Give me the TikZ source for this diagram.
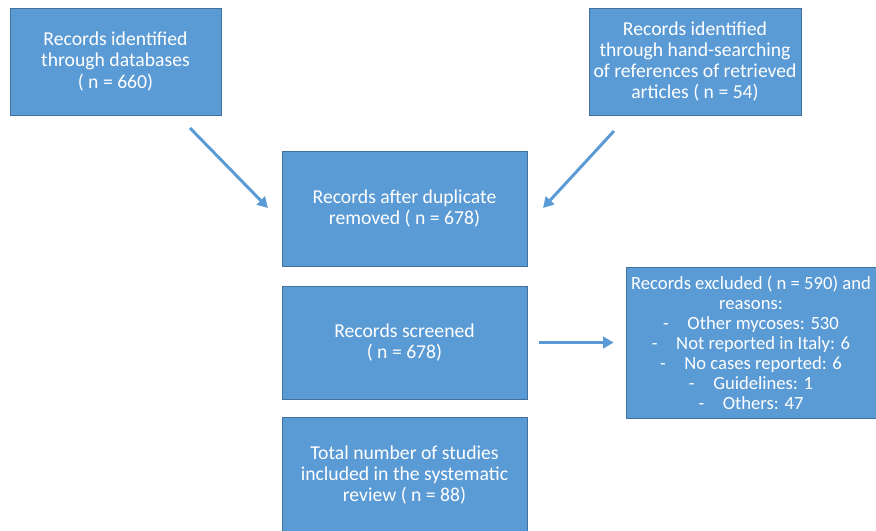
\documentclass[tikz,border=0pt]{standalone}
\usepackage{fontspec}
\setmainfont{Carlito}
\usetikzlibrary{arrows.meta}
\definecolor{boxblue}{HTML}{5B9BD5}
\definecolor{edgeblue}{HTML}{41719C}
\definecolor{arrowblue}{HTML}{5B9BD5}

\begin{document}
\begin{tikzpicture}[x=0.02cm, y=-0.02cm,
        box/.style={draw=edgeblue, line width=0.4pt, fill=boxblue, text=white, align=center, inner sep=0pt, font=\fontsize{11.2}{12}\selectfont},
        flow/.style={draw=arrowblue, line width=1.7pt, -{Triangle[length=6pt, width=6.5pt]}}]
        \useasboundingbox (0,0) rectangle (876,531);

        \node[box, minimum width=4.22cm, minimum height=2.14cm, font=\fontsize{11.2}{12.5}\selectfont] (databases) at (115.5, 61.5) {Records identified\\through databases\\( n = 660)};
        \node[box, minimum width=4.24cm, minimum height=2.14cm] (handsearch) at (695, 61.5) {Records identified\\through hand-searching\\of references of retrieved\\articles ( n = 54)};
        \node[box, minimum width=4.9cm, minimum height=2.3cm] (duplicates) at (404.5, 208.5) {Records after duplicate\\removed ( n = 678)};
        \node[box, minimum width=4.9cm, minimum height=2.26cm] (screened) at (404.5, 342.5) {Records screened\\( n = 678)};
        \node[box, minimum width=4.9cm, minimum height=2.3cm] (included) at (404.5, 475) {Total number of studies\\included in the systematic\\review ( n = 88)};
        \node[box, minimum width=5.0cm, minimum height=3.02cm, font=\fontsize{10.6}{11.4}\selectfont] (excluded) at (751, 342.5) {Records excluded ( n = 590) and\\reasons:\\-\quad Other mycoses: 530\\-\quad Not reported in Italy: 6\\-\quad No cases reported: 6\\-\quad Guidelines: 1\\-\quad Others: 47};

        \coordinate (tailA) at (190, 128);
        \coordinate (headA) at (268, 208);
        \coordinate (tailB) at (614, 131);
        \coordinate (headB) at (543, 208);

        \draw[flow] (tailA) -- (headA);
        \draw[flow] (tailB) -- (headB);
        \draw[flow, shorten <=0.24cm, shorten >=0.24cm] (screened) -- (excluded);
    \end{tikzpicture}
\end{document}
